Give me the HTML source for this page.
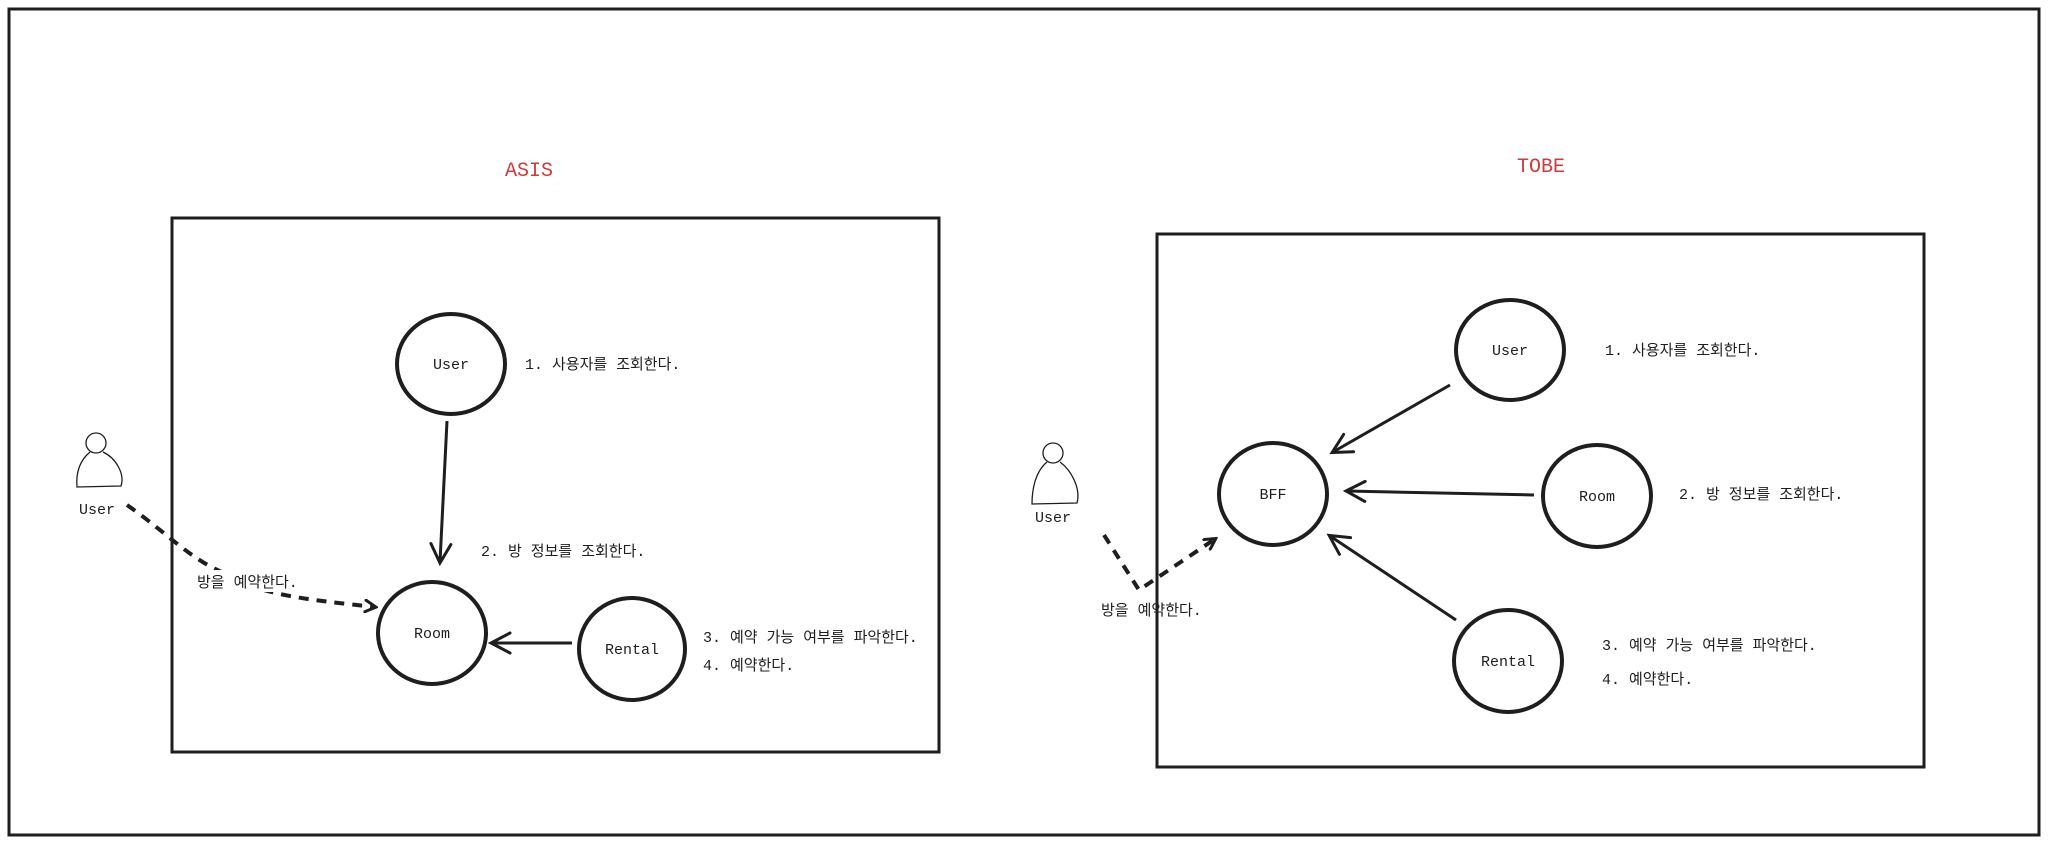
<!DOCTYPE html>
<html><head><meta charset="utf-8"><style>
html,body{margin:0;padding:0;background:#fff;}
svg text{font-family:"Liberation Mono","Noto Sans CJK KR",monospace;font-size:15px;fill:#1e1e1e;}
</style></head><body>
<svg width="2048" height="844" viewBox="0 0 2048 844" xmlns="http://www.w3.org/2000/svg">
<defs>
<marker id="ah" markerWidth="14" markerHeight="14" refX="11" refY="7" orient="auto" markerUnits="userSpaceOnUse">
<path d="M1,1 L12,7 L1,13" fill="none" stroke="#1e1e1e" stroke-width="3" stroke-linecap="round"/>
</marker>
<marker id="ah2" markerWidth="24" markerHeight="24" refX="20" refY="12" orient="auto" markerUnits="userSpaceOnUse">
<path d="M2,2 L21,12 L2,22" fill="none" stroke="#1e1e1e" stroke-width="3" stroke-linecap="round"/>
</marker>
</defs>
<rect x="9" y="9" width="2030" height="826" fill="none" stroke="#1e1e1e" stroke-width="3"/>
<text x="529" y="176" text-anchor="middle" style="fill:#d03a3a;font-size:20px">ASIS</text>
<text x="1541" y="172" text-anchor="middle" style="fill:#d03a3a;font-size:20px">TOBE</text>

<!-- ASIS -->
<rect x="172" y="218" width="767" height="534" fill="none" stroke="#1e1e1e" stroke-width="3"/>
<g fill="none" stroke="#1e1e1e" stroke-width="4">
<ellipse cx="451" cy="364" rx="54" ry="50"/>
<ellipse cx="432" cy="633" rx="54" ry="51"/>
<ellipse cx="632" cy="649" rx="53" ry="51"/>
</g>
<text x="451" y="369" text-anchor="middle">User</text>
<text x="432" y="638" text-anchor="middle">Room</text>
<text x="632" y="654" text-anchor="middle">Rental</text>
<text x="525" y="369">1. 사용자를 조회한다.</text>
<text x="481" y="556">2. 방 정보를 조회한다.</text>
<text x="703" y="642">3. 예약 가능 여부를 파악한다.</text>
<text x="703" y="670">4. 예약한다.</text>
<line x1="447" y1="421" x2="440" y2="562" stroke="#1e1e1e" stroke-width="3" marker-end="url(#ah2)"/>
<line x1="572" y1="643" x2="492" y2="643" stroke="#1e1e1e" stroke-width="3" marker-end="url(#ah2)"/>
<g fill="none" stroke="#1e1e1e" stroke-width="1.3">
<circle cx="96" cy="443" r="10"/>
<path d="M90,452 C78,462 76,475 77,487 L121,486 C125,474 116,458 103,452"/>
</g>
<text x="97" y="514" text-anchor="middle">User</text>
<path d="M127,505 C170,535 190,560 229,575 C260,595 310,600 375,607" fill="none" stroke="#1e1e1e" stroke-width="4" stroke-dasharray="10,8" marker-end="url(#ah)"/>
<rect x="195" y="570" width="100" height="22" fill="#fff"/>
<text x="197" y="587">방을 예약한다.</text>

<!-- TOBE -->
<rect x="1157" y="234" width="767" height="533" fill="none" stroke="#1e1e1e" stroke-width="3"/>
<g fill="none" stroke="#1e1e1e" stroke-width="4">
<ellipse cx="1510" cy="350" rx="54" ry="50"/>
<ellipse cx="1273" cy="494" rx="54" ry="51"/>
<ellipse cx="1597" cy="496" rx="54" ry="51"/>
<ellipse cx="1508" cy="661" rx="54" ry="51"/>
</g>
<text x="1510" y="355" text-anchor="middle">User</text>
<text x="1273" y="499" text-anchor="middle">BFF</text>
<text x="1597" y="501" text-anchor="middle">Room</text>
<text x="1508" y="666" text-anchor="middle">Rental</text>
<text x="1605" y="355">1. 사용자를 조회한다.</text>
<text x="1679" y="499">2. 방 정보를 조회한다.</text>
<text x="1602" y="650">3. 예약 가능 여부를 파악한다.</text>
<text x="1602" y="684">4. 예약한다.</text>
<line x1="1450" y1="385" x2="1333" y2="452" stroke="#1e1e1e" stroke-width="3" marker-end="url(#ah2)"/>
<line x1="1534" y1="495" x2="1347" y2="491" stroke="#1e1e1e" stroke-width="3" marker-end="url(#ah2)"/>
<line x1="1456" y1="620" x2="1330" y2="536" stroke="#1e1e1e" stroke-width="3" marker-end="url(#ah2)"/>
<g fill="none" stroke="#1e1e1e" stroke-width="1.3">
<circle cx="1053" cy="453" r="10"/>
<path d="M1047,462 C1035,472 1032,490 1032,504 L1077,503 C1081,488 1071,470 1060,462"/>
</g>
<text x="1053" y="522" text-anchor="middle">User</text>
<path d="M1104,535 L1139,590 L1215,539" fill="none" stroke="#1e1e1e" stroke-width="4" stroke-dasharray="10,8" marker-end="url(#ah)"/>
<text x="1101" y="615">방을 예약한다.</text>
</svg>
</body></html>
